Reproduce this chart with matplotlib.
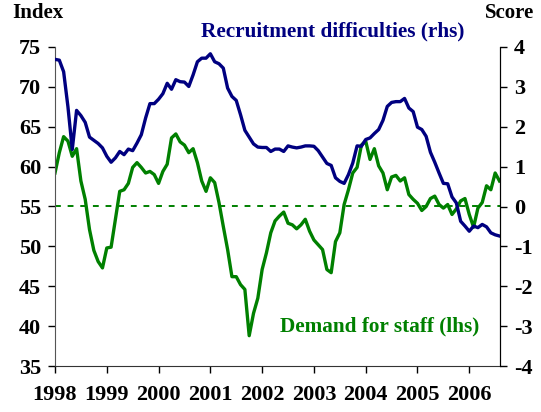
import matplotlib
matplotlib.use("Agg")
import matplotlib.pyplot as plt
import numpy as np

# Monthly data, Jan 1998 .. Aug 2006
start_year = 1998
demand_for_staff = [  # left axis (Index)
    59.2, 61.75, 63.76, 63.2, 61.3, 62.25, 58.2, 55.9, 52.1, 49.5, 48.1, 47.3,
    49.8, 49.9, 53.4, 56.9, 57.1, 57.9, 59.9, 60.5, 59.9, 59.2, 59.4, 59.0,
    57.9, 59.4, 60.3, 63.6, 64.1, 63.1, 62.7, 61.75, 62.25, 60.5, 58.2, 56.9,
    58.6, 58.0, 55.5, 52.5, 49.6, 46.2, 46.2, 45.2, 44.6, 38.8, 41.6, 43.5,
    47.1, 49.2, 51.7, 53.2, 53.8, 54.3, 52.9, 52.7, 52.2, 52.7, 53.4, 51.9,
    50.8, 50.2, 49.6, 47.1, 46.7, 50.6, 51.7, 55.25, 57.1, 59.2, 59.9, 62.7,
    63.2, 60.9, 62.25, 60.1, 59.2, 57.1, 58.7, 58.9, 58.2, 58.6, 56.5, 55.9,
    55.4, 54.5, 55.0, 56.0, 56.3, 55.25, 54.8, 55.25, 54.0, 54.7, 55.7, 56.0,
    54.0, 52.4, 54.8, 55.5, 57.6, 57.1, 59.2, 58.2,
]
recruitment_difficulties = [  # right axis (Score)
    3.69, 3.67, 3.38, 2.5, 1.43, 2.41, 2.28, 2.11, 1.74, 1.66, 1.58, 1.47,
    1.26, 1.11, 1.22, 1.38, 1.30, 1.44, 1.40, 1.59, 1.80, 2.22, 2.58, 2.58,
    2.69, 2.83, 3.09, 2.94, 3.18, 3.13, 3.12, 3.01, 3.30, 3.63, 3.72, 3.72,
    3.83, 3.63, 3.58, 3.47, 2.97, 2.76, 2.66, 2.30, 1.91, 1.74, 1.57, 1.49,
    1.48, 1.48, 1.38, 1.44, 1.44, 1.38, 1.52, 1.49, 1.47, 1.49, 1.52, 1.52,
    1.51, 1.40, 1.24, 1.08, 1.03, 0.72, 0.63, 0.58, 0.80, 1.09, 1.52, 1.51,
    1.68, 1.72, 1.83, 1.93, 2.16, 2.51, 2.61, 2.63, 2.63, 2.71, 2.47, 2.38,
    1.99, 1.93, 1.76, 1.36, 1.11, 0.84, 0.58, 0.57, 0.24, 0.09, -0.37, -0.49,
    -0.62, -0.49, -0.53, -0.45, -0.51, -0.66, -0.71, -0.74,
]
year_ticks = [1998, 1999, 2000, 2001, 2002, 2003, 2004, 2005, 2006]
left_ticks = [35, 40, 45, 50, 55, 60, 65, 70, 75]
right_ticks = [-4, -3, -2, -1, 0, 1, 2, 3, 4]

t = start_year + np.arange(len(demand_for_staff)) / 12.0

NAVY = "#000080"
GREEN = "#008000"
FONT = "Liberation Serif"

fig = plt.figure(figsize=(5.41, 4.12), dpi=100)
ax = fig.add_axes([55 / 541, 1 - 366 / 412, 445 / 541, (366 - 47) / 412])
ax2 = ax.twinx()

ax.plot(t, demand_for_staff, color=GREEN, lw=2.4)
ax.axhline(55, color=GREEN, lw=1.4, ls=(0, (3, 3.5)))
ax2.plot(t, recruitment_difficulties, color=NAVY, lw=2.4)

ax.set_xlim(t[0], t[-1] + 0.01)
ax.set_ylim(35, 75)
ax2.set_ylim(-4, 4)
ax.set_yticks(left_ticks)
ax2.set_yticks(right_ticks)
ax.set_xticks(year_ticks)

for a in (ax, ax2):
    a.spines["top"].set_visible(False)
ax.spines["left"].set_color("#555555")
ax.spines["bottom"].set_color("#333333")
ax2.spines["right"].set_color("black")
ax2.spines["left"].set_visible(False)
ax2.spines["bottom"].set_visible(False)

tick_font = dict(family=FONT, weight="bold", size=16)
ax.tick_params(axis="y", direction="out", length=5, width=1, pad=5)
ax.tick_params(axis="x", direction="out", length=5, width=1, pad=9)
ax2.tick_params(axis="y", direction="out", length=5, width=1, pad=5)
ax.set_yticklabels([str(v) for v in left_ticks], fontdict=tick_font)
ax2.set_yticklabels([str(v) for v in right_ticks], fontdict=tick_font)
ax.set_xticklabels([str(v) for v in year_ticks], fontdict=tick_font)

fig.text(38 / 541, 1 - 13 / 412, "Index", ha="center", va="center",
         family=FONT, weight="bold", size=15, color="black")
fig.text(510 / 541, 1 - 13 / 412, "Score", ha="center", va="center",
         family=FONT, weight="bold", size=15, color="black")
fig.text(333 / 541, 1 - 31 / 412, "Recruitment difficulties (rhs)", ha="center",
         va="center", family=FONT, weight="bold", size=15.3, color=NAVY)
fig.text(380 / 541, 1 - 326 / 412, "Demand for staff (lhs)", ha="center",
         va="center", family=FONT, weight="bold", size=15.3, color=GREEN)

fig.savefig("out.png", dpi=100)
